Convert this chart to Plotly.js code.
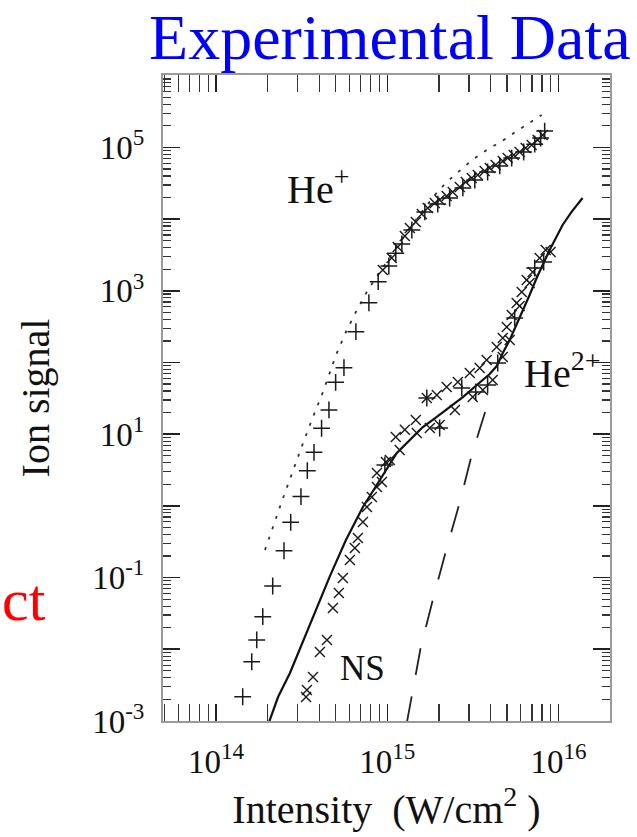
<!DOCTYPE html>
<html>
<head>
<meta charset="utf-8">
<script src="https://cdn.plot.ly/plotly-3.0.1.min.js"></script>
<style>html,body{margin:0;padding:0;background:#fff;}#chart{width:637px;height:837px;}</style>
</head>
<body>
<div id="chart"></div>
<script>
// ---- Data (Intensity in W/cm^2, ion signal in arbitrary units) ----
// He+ experimental, "+" markers
const hePlusCrossI = [1.43e14,1.615e14,1.727e14,1.873e14,2.141e14,2.492e14,2.727e14,3.13e14,3.41e14,3.73e14,4.13e14,4.56e14,4.99e14,5.58e14,6.55e14,7.80e14,8.84e14,1.02e15,1.12e15,1.215e15,1.39e15,1.655e15,1.97e15,2.31e15,2.76e15,3.24e15,3.85e15,4.53e15,5.32e15,6.25e15,7.25e15,7.85e15,8.29e15];
const hePlusCrossS = [2.18e-3,6.71e-3,1.35e-2,2.85e-2,7.64e-2,0.237,0.590,1.35,3.10,5.59,12.1,21.8,53.0,84.7,269,682,1340,2220,3330,4500,7050,1.26e4,1.62e4,1.97e4,2.72e4,3.51e4,4.54e4,5.51e4,7.11e4,8.63e4,1.11e5,1.35e5,1.69e5];
// He+ experimental, "x" markers
const hePlusXI = [9.41e14,1.06e15,1.15e15,1.265e15,1.353e15,1.466e15,1.589e15,1.722e15,1.892e15,2.02e15,2.22e15,2.41e15,2.65e15,2.87e15,3.11e15,3.37e15,3.70e15,3.96e15,4.29e15,4.72e15,5.04e15,5.47e15,5.92e15,6.42e15,6.96e15,7.54e15,8.07e15];
const hePlusXS = [1950,2870,4080,5810,7510,9120,1.18e4,1.43e4,1.68e4,1.85e4,2.10e4,2.39e4,2.81e4,3.29e4,3.74e4,4.12e4,4.69e4,5.16e4,5.69e4,6.46e4,7.11e4,7.83e4,8.63e4,9.81e4,1.08e5,1.27e5,1.49e5];
// He+ theory (dotted)
const hePlusTheoryI = [1.93e14,2.06e14,2.24e14,2.46e14,2.81e14,3.22e14,3.68e14,4.21e14,5.01e14,5.80e14,6.64e14,7.70e14,9.04e14,1.106e15,1.353e15,1.589e15,1.892e15,2.22e15,2.58e15,3.03e15,3.56e15,4.24e15,4.98e15,5.69e15,6.77e15,7.96e15];
const hePlusTheoryS = [0.243,0.393,0.678,1.29,3.17,7.54,17.4,38.8,127,284,540,1030,1830,3710,7510,1.26e4,2.17e4,3.29e4,4.54e4,6.25e4,8.36e4,1.08e5,1.35e5,1.69e5,2.19e5,2.83e5];
// He2+ experimental, "x" markers
const he2XI = [3.35e14,3.39e14,3.68e14,4.04e14,4.44e14,4.81e14,5.21e14,5.50e14,6.04e14,6.46e14,6.73e14,7.20e14,7.60e14,8.12e14,8.69e14,9.29e14,8.69e14,9.80e14,1.12e15,1.265e15,1.466e15,1.70e15,1.944e15,2.22e15,2.58e15,3.03e15,3.46e15,3.80e15,4.35e15,4.72e15,4.98e15,5.32e15,5.69e15,6.09e15,6.51e15,7.05e15,7.75e15,8.40e15,8.98e15,1.034e15,1.18e15,1.486e15,1.77e15,2.02e15,2.48e15,3.15e15,3.61e15,4.12e15,4.72e15,5.18e15,5.92e15,6.77e15];
const he2XS = [2.16e-3,2.70e-3,4.11e-3,9.16e-3,1.35e-2,3.77e-2,6.10e-2,9.86e-2,0.176,0.259,0.356,0.596,0.966,1.33,1.84,2.15,2.88,4.09,9.14,11.5,15.8,32.0,35.2,45.5,53.5,71.4,83.8,108,164,220,313,460,676,962,1420,1830,2870,3710,3480,4.37,6.03,10.4,12.2,13.4,21.8,33.0,41.3,57.0,119,206,614,1285];
// He2+ experimental, "+" markers
const he2CrossI = [9.67e14,1.70e15,2.02e15,2.72e15,3.28e15,3.85e15,4.41e15,5.54e15,7.25e15,8.18e15];
const he2CrossS = [3.72,32.0,12.2,44.1,38.8,48.5,98.4,418,2080,2520];
// He2+ theory (solid)
const he2TheoryI = [2.02e14,2.30e14,2.70e14,3.53e14,4.62e14,5.73e14,7.20e14,9.04e14,1.136e15,1.353e15,1.611e15,1.944e15,2.31e15,2.76e15,3.33e15,3.96e15,4.35e15,4.72e15,5.18e15,5.92e15,6.77e15,7.44e15,8.86e15,1.055e16,1.19e16,1.38e16];
const he2TheoryS = [9.08e-4,2.16e-3,4.67e-3,2.25e-2,0.105,0.334,0.966,2.30,5.47,8.30,12.6,17.4,23.9,33.0,48.5,69.2,89.3,136,206,418,873,1510,3710,8280,1.26e4,1.97e4];
// Sequential He2+ (dashed)
const seqI = [1.299e15,1.568e15,1.842e15,2.19e15,2.65e15,3.11e15,3.80e15];
const seqS = [9.38e-4,1.08e-2,4.88e-2,0.228,1.13,5.13,23.9];

// Tick labels
const xTickVals = [1e14,1e15,1e16];
const xTickText = ['10<sup>14</sup>','10<sup>15</sup>','10<sup>16</sup>'];
const yTickVals = [1e-3,1e-1,10,1e3,1e5];
const yTickText = ['10<sup>-3</sup>','10<sup>-1</sup>','10<sup>1</sup>','10<sup>3</sup>','10<sup>5</sup>'];
const yUnlabeledDecades = [1e-2,1,100,1e4,1e6];
const xDecades = [1e13,1e14,1e15,1e16];
const yDecades = [1e-3,1e-2,1e-1,1,10,100,1e3,1e4,1e5];

// minor tick positions 2..9 within each decade
function minorTicks(decades){
  const out = [];
  decades.forEach(d => { for (let k = 2; k <= 9; k++) out.push(k * d); });
  return out;
}

const FONT = 'Liberation Serif, Times New Roman, serif';
const INK = '#1a1a1a';

const crossMarker = {symbol:'cross-thin', size:12, color:INK, line:{width:1.5, color:INK}};
const xMarker = {symbol:'x-thin', size:10, color:INK, line:{width:1.4, color:INK}};

const traces = [
  {x:hePlusTheoryI, y:hePlusTheoryS, mode:'lines', line:{color:'#333', width:1.8, dash:'3px,8px'}, name:'He+ theory'},
  {x:seqI, y:seqS, mode:'lines', line:{color:'#222', width:1.8, dash:'27px,22px'}, name:'sequential'},
  {x:he2TheoryI, y:he2TheoryS, mode:'lines', line:{color:'#111', width:2.2}, name:'He2+ theory'},
  {x:hePlusCrossI, y:hePlusCrossS, mode:'markers', marker:crossMarker, name:'He+ (+)'},
  {x:hePlusXI, y:hePlusXS, mode:'markers', marker:xMarker, name:'He+ (x)'},
  {x:he2XI, y:he2XS, mode:'markers', marker:xMarker, name:'He2+ (x)'},
  {x:he2CrossI, y:he2CrossS, mode:'markers', marker:crossMarker, name:'He2+ (+)'},
  {x:[], y:[], yaxis:'y2', mode:'markers', hoverinfo:'skip', name:'decade ticks'}
];

const axisCommon = {
  type:'log', showgrid:false, zeroline:false,
  showline:true, linecolor:'#9a9a9a', linewidth:2, mirror:'allticks',
  ticks:'inside', ticklen:17, tickwidth:1.6, tickcolor:'#222',
  tickmode:'array',
  tickfont:{family:FONT, size:33, color:'#111'}
};
const minorCommon = {ticks:'inside', ticklen:8, tickwidth:1.2, tickcolor:'#333', showgrid:false, tickmode:'array'};

const layout = {
  width:637, height:837,
  margin:{l:163, r:27, t:75, b:116},
  paper_bgcolor:'#fff', plot_bgcolor:'#fff',
  showlegend:false,
  font:{family:FONT, color:'#111'},
  title:{text:'Experimental Data', font:{family:FONT, size:64, color:'#0000ff'},
         xref:'container', x:0.99, xanchor:'right', yref:'container', y:0.956, yanchor:'middle'},
  xaxis:Object.assign({}, axisCommon, {
    range:[13.69, 16.30], tickvals:xTickVals, ticktext:xTickText, ticklabelstandoff:10,
    minor:Object.assign({}, minorCommon, {tickvals:minorTicks(xDecades)}),
    title:{text:'Intensity  (W/cm<sup>2</sup> )', font:{family:FONT, size:40, color:'#111'}, standoff:16}
  }),
  yaxis:Object.assign({}, axisCommon, {
    range:[-3, 6.01], tickvals:yTickVals, ticktext:yTickText, ticklabelstandoff:10,
    minor:Object.assign({}, minorCommon, {tickvals:minorTicks(yDecades)}),
    title:{text:'Ion signal', font:{family:FONT, size:40, color:'#111'}, standoff:30}
  }),
  yaxis2:{
    type:'log', overlaying:'y', side:'left', range:[-3, 6.01],
    showgrid:false, zeroline:false, showline:true, linecolor:'#9a9a9a', linewidth:2, mirror:'allticks',
    ticks:'inside', ticklen:17, tickwidth:1.6, tickcolor:'#222',
    tickmode:'array', tickvals:yUnlabeledDecades, showticklabels:false
  },
  annotations:[
    {xref:'paper', yref:'paper', x:(285-163)/447, y:(721-186)/646, xanchor:'left', yanchor:'middle', showarrow:false,
     text:'He<sup>+</sup>', font:{family:FONT, size:40, color:'#111'}},
    {xref:'paper', yref:'paper', x:(522-163)/447, y:(721-370)/646, xanchor:'left', yanchor:'middle', showarrow:false,
     text:'He<sup>2+</sup>', font:{family:FONT, size:40, color:'#111'}},
    {xref:'paper', yref:'paper', x:(338-163)/447, y:(721-668)/646, xanchor:'left', yanchor:'middle', showarrow:false,
     text:'NS', font:{family:FONT, size:35, color:'#111'}},
    {xref:'paper', yref:'paper', x:(0-163)/447, y:(721-600)/646, xanchor:'left', yanchor:'middle', showarrow:false,
     text:'ct', font:{family:FONT, size:60, color:'#ff0000'}}
  ]
};

Plotly.newPlot('chart', traces, layout, {displayModeBar:false, staticPlot:true});
</script>
</body>
</html>
